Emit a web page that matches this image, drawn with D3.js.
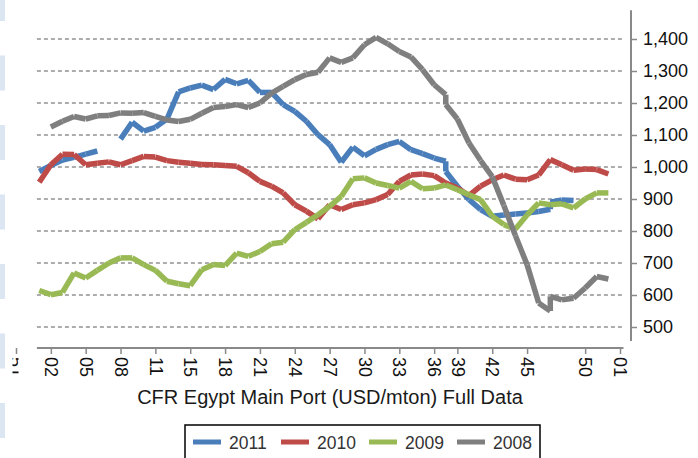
<!DOCTYPE html>
<html>
<head>
<meta charset="utf-8">
<script src="https://cdn.jsdelivr.net/npm/d3@7"></script>
<style>
    body { margin: 0; background: #fff; }
    svg { display: block; font-family: 'Liberation Sans', Arial, sans-serif; }
</style>
</head>
<body>
<svg id="cfr-egypt" width="698" height="458"></svg>
<script>
// slot of every reading on the week axis (37 and 46 hold two readings each)
let weeks = [2, 3, 4, 5, 6, 7, 8, 9, 10, 11, 12, 13, 14, 15, 16, 17, 18, 19, 20, 21,
    22, 23, 24, 25, 26, 27, 28, 29, 30, 31, 32, 33, 34, 35, 36, 37, 37, 38, 39, 40,
    41, 42, 43, 44, 45, 46, 46, 47, 48, 49, 50, 51]

let s2011 = [986, 1005, 1022, 1030, 1040, 1050, null, 1087, 1140, 1112, 1124, 1150, 1235, 1247, 1256, 1242, 1274, 1260, 1271, 1233,
    1233, 1195, 1174, 1143, 1101, 1070, 1015, 1062, 1035, 1055, 1070, 1080, 1054, 1042, 1028, 1018, 986, 940, 898, 867,
    846, 850, 853, 856, 861, 868, 890, 897, 895, null, null, null]
let s2010 = [952, 1007, 1040, 1039, 1007, 1012, 1016, 1007, 1020, 1033, 1031, 1020, 1015, 1012, 1008, 1007, 1005, 1002, 982, 955,
    940, 919, 882, 862, 838, 882, 867, 882, 888, 898, 914, 955, 975, 978, 973, 950, 950, 934, 911, 940,
    960, 975, 962, 960, 975, 1023, 1023, 1007, 990, 994, 992, 978]
let s2009 = [614, 601, 608, 669, 653, 677, 700, 716, 716, 695, 677, 643, 635, 629, 679, 695, 692, 731, 721, 736,
    760, 765, 804, 827, 851, 877, 908, 963, 966, 950, 942, 934, 955, 932, 934, 944, 944, 929, 913, 898,
    846, 820, 806, 850, 888, 882, 882, 885, 872, 900, 919, 919]
let s2008 = [null, 1125, 1143, 1158, 1150, 1160, 1161, 1169, 1168, 1170, 1158, 1147, 1142, 1149, 1168, 1186, 1189, 1195, 1186, 1200,
    1231, 1252, 1273, 1289, 1296, 1341, 1327, 1341, 1382, 1405, 1385, 1361, 1344, 1304, 1257, 1226, 1195, 1150, 1075, 1020,
    970, 880, 785, 695, 575, 550, 596, 585, 590, 622, 658, 650]

let seriesNames = ['2011', '2010', '2009', '2008']
let seriesColors = ['#4a7ebb', '#be4b48', '#98b954', '#7f7f7f']

let tickPos = [0, 3, 6, 9, 12, 15, 18, 21, 24, 27, 30, 33, 36, 38, 41, 44, 49, 52]
let tickLabels = ['51', '02', '05', '08', '11', '15', '18', '21', '24', '27', '30', '33', '36', '39', '42', '45', '50', '01']
let yTicks = [500, 600, 700, 800, 900, 1000, 1100, 1200, 1300, 1400]

function main() {
    let svg = d3.select('#cfr-egypt')

    let xScale = d3.scaleLinear().domain([0, 52]).range([16, 620]),
        yScale = d3.scaleLinear().domain([450, 1500]).range([343, 7])

    // pale slide strip on the far left
    svg.selectAll('rect.strip')
        .data(d3.range(7))
        .enter()
        .append('rect')
        .attr('class', 'strip')
        .attr('x', 0)
        .attr('y', d => -14 + d * 69.5)
        .attr('width', 5)
        .attr('height', 35)
        .attr('fill', '#dce6f2')

    // dashed gridlines
    svg.append('g')
        .selectAll('line')
        .data(yTicks)
        .enter()
        .append('line')
        .attr('x1', xScale(1.8))
        .attr('x2', xScale(52.3))
        .attr('y1', d => yScale(d))
        .attr('y2', d => yScale(d))
        .attr('stroke', '#5a5a5a')
        .attr('stroke-width', 1)
        .attr('stroke-dasharray', '4,3')

    // lines, one segment per pair of readings
    let series = [s2011, s2010, s2009, s2008].map((vals, k) => ({name: seriesNames[k], color: seriesColors[k], values: vals}))
    series.forEach(s => {
        let segs = []
        for (let j = 0; j < weeks.length - 1; j++) {
            if (s.values[j] != null && s.values[j + 1] != null) {
                segs.push([[weeks[j], s.values[j]], [weeks[j + 1], s.values[j + 1]]])
            }
        }
        svg.append('g')
            .selectAll('line')
            .data(segs)
            .enter()
            .append('line')
            .attr('x1', d => xScale(d[0][0]))
            .attr('y1', d => yScale(d[0][1]))
            .attr('x2', d => xScale(d[1][0]))
            .attr('y2', d => yScale(d[1][1]))
            .attr('stroke', s.color)
            .attr('stroke-width', 5.5)
    })

    // right value axis
    let yAxis = svg.append('g')
        .attr('transform', 'translate(631, 0)')
        .call(d3.axisRight(yScale).tickValues(yTicks).tickSize(6).tickSizeOuter(0).tickPadding(6).tickFormat(d3.format(',')))
    yAxis.select('.domain').remove()
    yAxis.append('line')
        .attr('y1', yScale(1490))
        .attr('y2', yScale(456))
        .attr('stroke', '#898989')
        .attr('stroke-width', 2)
    yAxis.selectAll('.tick line').attr('stroke', '#898989').attr('stroke-width', 1.5)
    yAxis.selectAll('text')
        .attr('fill', '#111')
        .style('font-size', '18px')
        .style('font-family', "'Liberation Sans', Arial, sans-serif")

    // week axis
    let xAxis = svg.append('g')
        .attr('transform', 'translate(0, 348)')
        .call(d3.axisBottom(xScale).tickValues(tickPos).tickSize(6).tickSizeOuter(0).tickFormat((d, i) => tickLabels[i]))
    xAxis.select('.domain').remove()
    xAxis.append('line')
        .attr('x1', xScale(1.8))
        .attr('x2', xScale(52.3))
        .attr('stroke', '#898989')
        .attr('stroke-width', 2)
    xAxis.selectAll('.tick line').attr('stroke', '#898989').attr('stroke-width', 1.5)
    xAxis.selectAll('text')
        .attr('transform', 'rotate(90)')
        .attr('x', 9)
        .attr('y', 0)
        .attr('dy', '.35em')
        .attr('fill', '#111')
        .style('text-anchor', 'start')
        .style('font-size', '18px')
        .style('font-family', "'Liberation Sans', Arial, sans-serif")

    // first label is cut by the slide edge
    svg.append('clipPath')
        .attr('id', 'cut51')
        .append('rect')
        .attr('x', -4)
        .attr('y', -10)
        .attr('width', 6)
        .attr('height', 50)
    xAxis.select('.tick').attr('clip-path', 'url(#cut51)')

    svg.append('text')
        .attr('x', 330)
        .attr('y', 404)
        .attr('text-anchor', 'middle')
        .attr('fill', '#1a1a1a')
        .style('font-size', '20px')
        .text('CFR Egypt Main Port (USD/mton) Full Data')

    // legend
    let legend = svg.append('g').attr('transform', 'translate(185, 425)')
    legend.append('rect')
        .attr('width', 355)
        .attr('height', 45)
        .attr('fill', '#fff')
        .attr('stroke', '#000')
        .attr('stroke-width', 1.5)
    let items = legend.selectAll('g.item')
        .data(series)
        .enter()
        .append('g')
        .attr('class', 'item')
        .attr('transform', (d, i) => 'translate(' + (8 + i * 88) + ', 0)')
    items.append('line')
        .attr('x1', 0)
        .attr('x2', 28)
        .attr('y1', 17)
        .attr('y2', 17)
        .attr('stroke', d => d.color)
        .attr('stroke-width', 5)
    items.append('text')
        .attr('x', 36)
        .attr('y', 24)
        .attr('fill', '#333')
        .style('font-size', '17.5px')
        .text(d => d.name)
}

main()
</script>
</body>
</html>
